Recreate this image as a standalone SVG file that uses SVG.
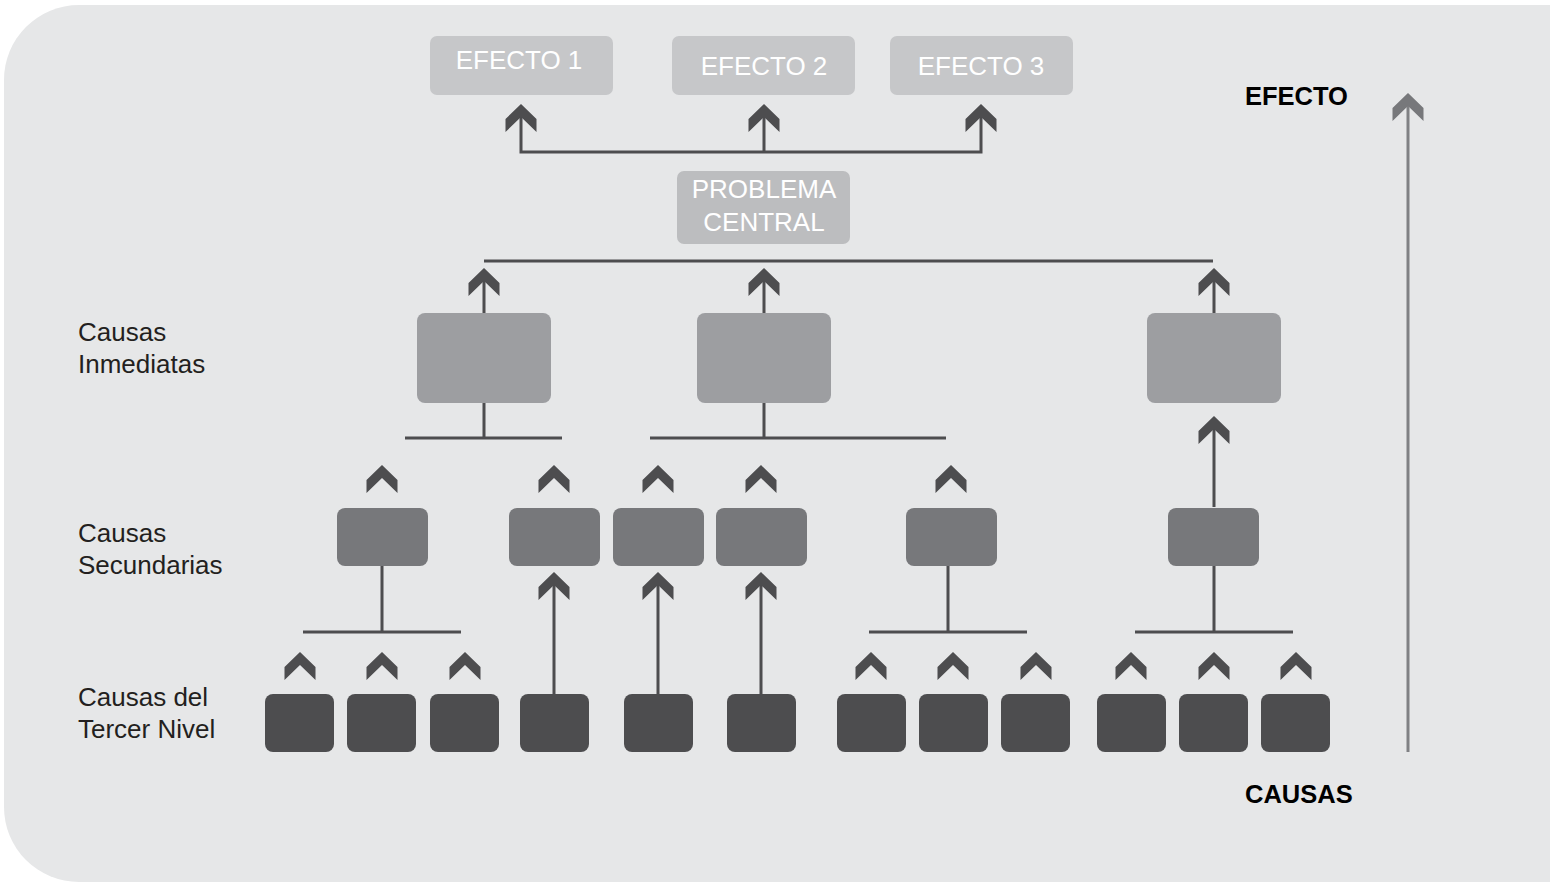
<svg xmlns="http://www.w3.org/2000/svg" width="1550" height="882" viewBox="0 0 1550 882">
<style>
.lbl{font-family:"Liberation Sans",Arial,sans-serif;font-size:26px;fill:#231f20}
.bold{font-family:"Liberation Sans",Arial,sans-serif;font-size:25.5px;font-weight:bold;fill:#000}
.wt{font-family:"Liberation Sans",Arial,sans-serif;font-size:26px;fill:#fff;text-anchor:middle}
.eff{fill:#c6c7c9}
.pc{fill:#bcbdbf}
.imm{fill:#9d9ea1}
.sec{fill:#77787b}
.ter{fill:#4d4d4f}
.ln{stroke:#4d4d4f;stroke-width:3;fill:none}
.ch{fill:#4d4d4f}
</style>
<defs>
<path id="chev" d="M0,0 L15.5,15 L15.5,28 L0,13 L-15.5,28 L-15.5,15 Z"/>
</defs>
<rect width="1550" height="882" fill="#ffffff"/>
<path d="M79,5 H1550 V882 H79 A75,75 0 0 1 4,807 V80 A75,75 0 0 1 79,5 Z" fill="#e6e7e8"/>

<g id="labels">
<text class="lbl" x="78" y="341">Causas</text>
<text class="lbl" x="78" y="373">Inmediatas</text>
<text class="lbl" x="78" y="542">Causas</text>
<text class="lbl" x="78" y="574">Secundarias</text>
<text class="lbl" x="78" y="706">Causas del</text>
<text class="lbl" x="78" y="738">Tercer Nivel</text>
<text class="bold" x="1245" y="105">EFECTO</text>
<text class="bold" x="1245" y="803">CAUSAS</text>
</g>

<g id="axis">
<line x1="1408" y1="752" x2="1408" y2="100" stroke="#808184" stroke-width="3"/>
<use href="#chev" transform="translate(1408,93)" fill="#77787b"/>
</g>

<g id="connectors">
<path class="ln" d="M521,106 V152 H981 V106 M764,106 V152"/>
<path class="ln" d="M484,261 H1213"/>
<path class="ln" d="M484,270 V313 M764,270 V313 M1214,270 V313"/>
<path class="ln" d="M484,403 V438 M405,438 H562"/>
<path class="ln" d="M764,403 V438 M650,438 H946"/>
<path class="ln" d="M1214,418 V507"/>
<path class="ln" d="M382,566 V632 M303,632 H461"/>
<path class="ln" d="M948,566 V632 M869,632 H1027"/>
<path class="ln" d="M1214,566 V632 M1135,632 H1293"/>
<path class="ln" d="M554,574 V694 M658,574 V694 M761,574 V694"/>
<g class="ch">
<use href="#chev" transform="translate(521,104)"/>
<use href="#chev" transform="translate(764,104)"/>
<use href="#chev" transform="translate(981,104)"/>
<use href="#chev" transform="translate(484,268)"/>
<use href="#chev" transform="translate(764,268)"/>
<use href="#chev" transform="translate(1214,268)"/>
<use href="#chev" transform="translate(1214,416)"/>
<use href="#chev" transform="translate(382,465)"/>
<use href="#chev" transform="translate(554,465)"/>
<use href="#chev" transform="translate(658,465)"/>
<use href="#chev" transform="translate(761,465)"/>
<use href="#chev" transform="translate(951,465)"/>
<use href="#chev" transform="translate(554,572)"/>
<use href="#chev" transform="translate(658,572)"/>
<use href="#chev" transform="translate(761,572)"/>
<use href="#chev" transform="translate(300,652)"/>
<use href="#chev" transform="translate(382,652)"/>
<use href="#chev" transform="translate(465,652)"/>
<use href="#chev" transform="translate(871,652)"/>
<use href="#chev" transform="translate(953,652)"/>
<use href="#chev" transform="translate(1036,652)"/>
<use href="#chev" transform="translate(1131,652)"/>
<use href="#chev" transform="translate(1214,652)"/>
<use href="#chev" transform="translate(1296,652)"/>
</g>
</g>

<g id="efecto1"><rect class="eff" x="430" y="36" width="183" height="59" rx="7"/><text class="wt" x="519" y="69">EFECTO 1</text></g>
<g id="efecto2"><rect class="eff" x="672" y="36" width="183" height="59" rx="7"/><text class="wt" x="764" y="75">EFECTO 2</text></g>
<g id="efecto3"><rect class="eff" x="890" y="36" width="183" height="59" rx="7"/><text class="wt" x="981" y="75">EFECTO 3</text></g>
<g id="problema"><rect class="pc" x="677" y="171" width="173" height="73" rx="7"/><text class="wt" x="764" y="198">PROBLEMA</text><text class="wt" x="764" y="231">CENTRAL</text></g>

<g id="imm1"><rect class="imm" x="417" y="313" width="134" height="90" rx="8"/></g>
<g id="imm2"><rect class="imm" x="697" y="313" width="134" height="90" rx="8"/></g>
<g id="imm3"><rect class="imm" x="1147" y="313" width="134" height="90" rx="8"/></g>

<g id="sec1"><rect class="sec" x="337" y="508" width="91" height="58" rx="8"/></g>
<g id="sec2"><rect class="sec" x="509" y="508" width="91" height="58" rx="8"/></g>
<g id="sec3"><rect class="sec" x="613" y="508" width="91" height="58" rx="8"/></g>
<g id="sec4"><rect class="sec" x="716" y="508" width="91" height="58" rx="8"/></g>
<g id="sec5"><rect class="sec" x="906" y="508" width="91" height="58" rx="8"/></g>
<g id="sec6"><rect class="sec" x="1168" y="508" width="91" height="58" rx="8"/></g>

<g id="ter1"><rect class="ter" x="265" y="694" width="69" height="58" rx="8"/></g>
<g id="ter2"><rect class="ter" x="347" y="694" width="69" height="58" rx="8"/></g>
<g id="ter3"><rect class="ter" x="430" y="694" width="69" height="58" rx="8"/></g>
<g id="ter4"><rect class="ter" x="520" y="694" width="69" height="58" rx="8"/></g>
<g id="ter5"><rect class="ter" x="624" y="694" width="69" height="58" rx="8"/></g>
<g id="ter6"><rect class="ter" x="727" y="694" width="69" height="58" rx="8"/></g>
<g id="ter7"><rect class="ter" x="837" y="694" width="69" height="58" rx="8"/></g>
<g id="ter8"><rect class="ter" x="919" y="694" width="69" height="58" rx="8"/></g>
<g id="ter9"><rect class="ter" x="1001" y="694" width="69" height="58" rx="8"/></g>
<g id="ter10"><rect class="ter" x="1097" y="694" width="69" height="58" rx="8"/></g>
<g id="ter11"><rect class="ter" x="1179" y="694" width="69" height="58" rx="8"/></g>
<g id="ter12"><rect class="ter" x="1261" y="694" width="69" height="58" rx="8"/></g>
</svg>
